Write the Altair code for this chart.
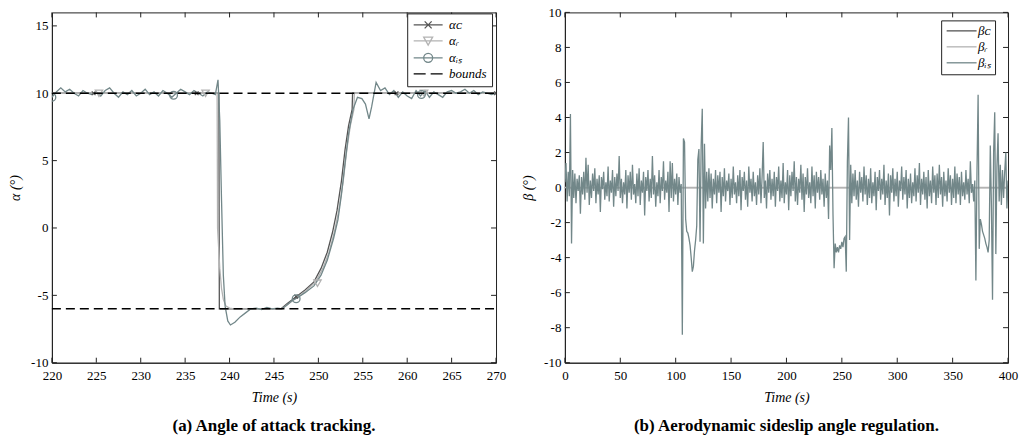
import altair as alt
import pandas as pd

# ---------------- (a) angle of attack tracking ----------------
alpha_c_t = [220.0, 238.8, 238.85, 245.8, 246.5, 247.5, 248.5, 249.5, 250.3, 251.0,
             251.6, 252.1, 252.6, 253.0, 253.4, 253.8, 253.85, 270.0]
alpha_c_v = [10.0, 10.0, -6.0, -6.0, -5.6, -5.1, -4.6, -4.0, -3.0, -1.8,
             -0.3, 1.3, 3.5, 5.8, 7.6, 8.8, 10.0, 10.0]

alpha_r_t = [220.0, 238.6, 238.65, 238.9, 239.1, 239.3, 239.6, 240.0, 240.5, 245.9,
             246.7, 247.7, 248.7, 249.7, 250.5, 251.2, 251.8, 252.3, 252.8, 253.2,
             253.6, 254.0, 254.05, 270.0]
alpha_r_v = [10.0, 10.0, 0.0, -3.0, -4.5, -5.3, -5.8, -5.95, -6.0, -6.0,
             -5.6, -5.1, -4.6, -4.0, -3.0, -1.8, -0.3, 1.3, 3.5, 5.8,
             7.6, 8.8, 10.0, 10.0]

alpha_is_t = [220.0, 220.5, 221.0, 221.5, 222.0, 222.5, 223.0, 223.5, 224.0, 224.5,
              225.0, 225.5, 226.0, 226.5, 227.0, 227.5, 228.0, 228.5, 229.0, 229.5,
              230.0, 230.5, 231.0, 231.5, 232.0, 232.5, 233.0, 233.5, 234.0, 234.5,
              235.0, 235.5, 236.0, 236.5, 237.0, 237.5, 238.0, 238.4, 238.7, 238.9,
              239.1, 239.3, 239.5, 239.8, 240.1, 240.6, 241.2, 241.8, 242.4, 243.0,
              243.6, 244.2, 244.8, 245.4, 245.9, 246.5, 247.0, 247.6, 248.5, 249.5,
              250.3, 251.0, 251.7, 252.2, 252.6, 253.0, 253.4, 253.9, 254.4, 254.9,
              255.3, 255.7, 256.0, 256.5, 257.0, 257.5, 258.0, 258.5, 259.0, 259.5,
              260.0, 260.5, 261.0, 261.5, 262.0, 262.5, 263.0, 263.5, 264.0, 264.5,
              265.0, 265.5, 266.0, 266.5, 267.0, 267.5, 268.0, 268.5, 269.0, 269.5,
              270.0]
alpha_is_v = [9.7, 10.1, 10.4, 10.1, 10.3, 10.0, 9.8, 10.2, 10.0, 9.9,
              10.1, 9.8, 10.2, 10.4, 10.0, 9.7, 10.1, 9.9, 10.2, 9.8,
              10.0, 10.3, 9.9, 10.1, 9.8, 10.2, 10.0, 9.7, 10.0, 10.3,
              10.1, 9.9, 10.2, 10.0, 9.8, 10.1, 10.0, 9.9, 11.0, 8.0,
              2.0, -3.5, -5.8, -6.9, -7.2, -7.0, -6.6, -6.3, -6.0, -5.95,
              -6.05, -5.9, -6.0, -5.95, -6.0, -5.7, -5.4, -5.2, -4.8, -4.3,
              -3.5, -2.4, -0.8, 0.6, 2.5, 4.8, 7.0, 8.8, 9.7, 9.6,
              9.2, 8.1, 9.0, 10.8, 10.2, 10.4, 9.9, 10.2, 9.7, 10.1,
              9.8, 9.6, 10.2, 9.8, 10.2, 9.7, 10.1, 9.9, 9.7, 10.1,
              10.2, 10.0, 10.1, 10.3, 10.0, 10.2, 9.9, 10.1, 10.0, 9.9,
              10.0]

# markers on the lines
mk_c_t = [224.7, 236.3, 247.5, 258.8, 270.0]
mk_c_v = [10.0, 10.0, -5.1, 10.0, 10.0]
mk_r_t = [225.3, 237.3, 249.9, 261.9]
mk_r_v = [10.0, 10.0, -4.1, 10.0]
mk_is_t = [220.0, 233.7, 247.5, 261.6]
mk_is_v = [9.7, 9.85, -5.25, 9.9]

bounds_t = [220.0, 270.0]
bound_hi = [10.0, 10.0]
bound_lo = [-6.0, -6.0]

alpha_names = ["αᴄ", "αᵣ", "αᵢₛ", "bounds"]
alpha_xticks = [220, 225, 230, 235, 240, 245, 250, 255, 260, 265, 270]
alpha_yticks = [-10, -5, 0, 5, 10, 15]

# ---------------- (b) sideslip regulation ----------------
beta_is = [
    0.3, 1.4, -0.8, 0.9, -0.5, 4.2, -3.2, 1.0, -0.6, 0.8,
    -0.9, 0.5, -0.2, 0.7, -1.5, 0.6, -0.4, 0.9, -0.7, 1.7,
    -0.3, 1.3, -1.0, 0.4, -0.6, 0.8, -0.2, 1.1, -0.9, 0.5,
    -0.4, 0.7, -1.4, 0.6, -0.1, 0.9, -0.7, 0.3, -0.5, 1.2,
    -0.8, 0.4, -0.3, 1.0, -1.1, 0.6, -0.5, 0.8, -0.2, 1.8,
    -0.6, 0.5, -0.9, 0.3, -0.4, 1.0, -1.2, 0.7, -0.3, 0.9,
    -0.7, 1.3, -0.4, 0.2, -0.9, 0.8, -0.5, 1.1, -1.0, 0.4,
    -0.3, 0.9, -1.6, 0.6, -0.2, 1.0, -0.8, 0.5, -0.6, 1.8,
    -0.4, 0.7, -1.1, 0.3, -0.5, 1.0, -0.9, 0.6, -0.2, 1.5,
    -0.7, 0.4, -0.3, 0.9, -1.4, 1.5, -0.6, 1.4, -0.8, 0.5,
    -0.4, 0.8, -1.0, 0.6, -0.3, 0.2, -8.4, 2.8, 2.6, -1.8,
    -2.5, -2.6, -2.9, -3.3, -4.0, -4.8, -4.5, -3.6, -3.0, -2.2,
    1.6, 2.2, -3.1, 2.4, 4.5, -3.2, 2.5, -1.2, 0.9, -0.8,
    1.1, -0.6, 0.8, -1.2, 0.5, -0.4, 1.0, -0.9, 0.7, -0.3,
    0.9, -1.4, 0.6, -0.5, 1.1, -0.8, 0.4, -0.2, 0.8, -1.0,
    0.5, -0.6, 1.2, -0.4, 0.3, -0.9, 0.7, -0.5, 1.0, -1.3,
    0.6, -0.2, 0.9, -0.7, 0.4, -1.1, 1.2, -0.3, 0.5, -0.8,
    0.9, -0.5, 0.3, -1.0, 0.7, -0.4, 1.1, -0.9, 0.6, 2.6,
    -0.6, 0.4, -1.2, 0.8, -0.3, 1.0, -0.7, 0.5, -0.5, 0.9,
    -1.1, 0.6, -0.2, 1.2, -0.8, 0.4, -0.6, 1.4, -0.9, 0.3,
    -0.4, 1.0, -1.3, 0.7, -0.5, 0.9, -0.2, 1.5, -0.8, 0.6,
    -1.0, 0.5, -0.3, 1.3, -0.7, 0.8, -1.4, 0.6, -0.4, 1.1,
    -0.6, 0.3, -0.9, 1.2, -0.5, 0.7, -1.2, 0.9, -0.3, 0.6,
    -0.7, 1.0, -0.4, 0.5, -1.1, 0.8, -0.6, 0.4, -1.8, 2.4,
    1.0, 3.4, -1.5, -4.6, -3.2, -3.7, -3.4, -3.7, -3.3, -3.5,
    -3.1, -3.4, -2.9, -2.8, -4.8, 1.5, 4.0, -3.0, 1.3, -0.9,
    0.8, -0.5, 1.0, -0.7, 0.4, -1.1, 0.9, -0.3, 0.6, -0.8,
    1.2, -0.4, 0.7, -1.0, 0.5, -0.6, 1.1, -0.9, 0.3, -0.5,
    0.9, -1.3, 0.6, -0.2, 1.0, -0.7, 0.5, -0.4, 1.3, -1.0,
    0.4, -0.6, 0.8, -1.6, 0.7, -0.3, 1.1, -0.8, 0.5, -0.5,
    0.9, -1.1, 0.4, -0.2, 1.2, -0.7, 0.6, -0.4, 1.0, -1.2,
    0.5, -0.6, 0.8, -0.9, 0.3, -0.5, 1.1, -0.8, 0.7, -0.3,
    1.4, -1.0, 0.5, -0.4, 0.9, -0.7, 0.6, -1.2, 1.0, -0.5,
    0.4, -0.9, 1.2, -0.3, 0.7, -1.0, 0.8, -0.6, 1.3, -0.4,
    0.6, -1.1, 0.9, -0.5, 0.4, -0.8, 1.1, -0.3, 0.7, -1.0,
    0.5, -0.6, 1.2, -0.9, 0.8, -0.4, 0.6, -1.0, 0.9, -0.5,
    0.3, -0.7, 1.0, -0.4, 0.5, -0.9, 1.5, -0.3, 0.2, -0.8,
    0.4, -5.3, 1.0, 5.3, -3.5, -1.8, -2.1, -2.5, -2.7, -2.9,
    -3.2, -3.4, -3.7, -3.0, 2.4, -1.0, -6.4, 2.0, 4.3, -3.8,
    1.2, 3.1, -0.8, 1.3, -1.0, 1.0, -0.6, 0.9, 2.0, -1.2,
    0.4,
]
beta_t = list(range(len(beta_is)))      # 1 s sampling grid
beta_ref_t = [0.0, 400.0]
beta_c = [0.0, 0.0]
beta_r = [0.0, 0.0]

beta_names = ["βᴄ", "βᵣ", "βᵢₛ"]
beta_xticks = [0, 50, 100, 150, 200, 250, 300, 350, 400]
beta_yticks = [-10, -8, -6, -4, -2, 0, 2, 4, 6, 8, 10]

# ---------------- styling ----------------
FONT = "Liberation Serif"
DARK = "#555555"
LIGHT = "#b3b3b3"
TEAL = "#728789"
FRAME = "#222222"
H = 351
W1 = 445
W2 = 444
TICK = 5
LABEL_EXPR = "'' + datum.value"


def enc_x(domain, ticks, title):
    return alt.X("t:Q", scale=alt.Scale(domain=domain, nice=False, zero=False),
                 axis=alt.Axis(values=ticks, title=title, labelExpr=LABEL_EXPR,
                               labelPadding=7))


def enc_y(domain, ticks, title):
    return alt.Y("v:Q", scale=alt.Scale(domain=domain, nice=False, zero=False),
                 axis=alt.Axis(values=ticks, title=title, labelExpr=LABEL_EXPR,
                               labelPadding=4))


def line(t, v, color, width=1.3):
    df = pd.DataFrame({"t": t, "v": v})
    return alt.Chart(df).mark_line(color=color, strokeWidth=width, clip=True)


def ticks(xt, yt, W, X, Y):
    xdf = pd.DataFrame({"t": xt})
    ydf = pd.DataFrame({"v": yt})
    r = dict(color=FRAME, strokeWidth=1)
    return [
        alt.Chart(xdf).mark_rule(**r).encode(x=X, y=alt.value(H), y2=alt.value(H - TICK)),
        alt.Chart(xdf).mark_rule(**r).encode(x=X, y=alt.value(0), y2=alt.value(TICK)),
        alt.Chart(ydf).mark_rule(**r).encode(y=Y, x=alt.value(0), x2=alt.value(TICK)),
        alt.Chart(ydf).mark_rule(**r).encode(y=Y, x=alt.value(W), x2=alt.value(W - TICK)),
    ]


def legend_layer(names, colors, paths, X, Y, lx, ly, loff, pad):
    df = pd.DataFrame({"series": names, "t": [0.0] * len(names), "v": [0.0] * len(names)})
    lg = alt.Legend(orient="none", legendX=lx, legendY=ly, title=None,
                    strokeColor=FRAME, fillColor="white", padding=pad,
                    symbolSize=100, symbolStrokeWidth=1.3, labelOffset=loff,
                    rowPadding=2, labelFont=FONT, labelFontSize=13,
                    labelFontStyle="italic", labelColor="black")
    return alt.Chart(df).transform_filter("false").mark_point(
        filled=False, opacity=1, strokeWidth=1.3).encode(
        x=X, y=Y,
        color=alt.Color("series:N", scale=alt.Scale(domain=names, range=colors), legend=lg),
        shape=alt.Shape("series:N", scale=alt.Scale(domain=names, range=paths), legend=lg),
    )


def markers(t, v, color, shape, size):
    df = pd.DataFrame({"t": t, "v": v})
    return alt.Chart(df).mark_point(filled=False, opacity=1, color=color, shape=shape,
                                    size=size, strokeWidth=1.3, clip=True)


# ---- panel (a)
Xa = enc_x([220, 270], alpha_xticks, "Time (s)")
Ya = enc_y([-10, 16], alpha_yticks, "α (°)")
bdf = pd.DataFrame({"t": bounds_t + bounds_t, "v": bound_hi + bound_lo,
                    "b": ["hi", "hi", "lo", "lo"]})
X_SHAPE = "M-1,-1L1,1M-1,1L1,-1"
alpha_paths = [
    "M-1,0H4.8M1.2,-0.7L2.6,0.7M1.2,0.7L2.6,-0.7",
    "M-1,0H4.8M1.0,-0.75L2.8,-0.75L1.9,0.85Z",
    "M-1,0H4.8M2.8,0A0.9,0.9,0,1,0,1.0,0A0.9,0.9,0,1,0,2.8,0",
    "M-1,0H1.4M2.4,0H4.8",
]
layers_a = ticks(alpha_xticks, alpha_yticks, W1, Xa, Ya) + [
    line(alpha_c_t, alpha_c_v, DARK).encode(x=Xa, y=Ya),
    line(alpha_r_t, alpha_r_v, LIGHT).encode(x=Xa, y=Ya),
    line(alpha_is_t, alpha_is_v, TEAL).encode(x=Xa, y=Ya),
    markers(mk_c_t, mk_c_v, DARK, X_SHAPE, 14).encode(x=Xa, y=Ya),
    markers(mk_r_t, mk_r_v, LIGHT, "triangle-down", 55).encode(x=Xa, y=Ya),
    markers(mk_is_t, mk_is_v, TEAL, "circle", 60).encode(x=Xa, y=Ya),
    alt.Chart(bdf).mark_line(color="black", strokeWidth=1.6, strokeDash=[9, 5]).encode(
        x=Xa, y=Ya, detail="b:N"),
    legend_layer(alpha_names, [DARK, LIGHT, TEAL, "black"], alpha_paths, Xa, Ya,
                 356, 1, 24, 5),
]
chart_a = alt.layer(*layers_a).properties(
    width=W1, height=H,
    title=alt.TitleParams("(a) Angle of attack tracking.", orient="bottom", anchor="middle",
                          frame="group", font=FONT, fontSize=17, fontWeight="bold",
                          color="black", offset=13))

# ---- panel (b)
Xb = enc_x([0, 400], beta_xticks, "Time (s)")
Yb = enc_y([-10, 10], beta_yticks, "β (°)")
beta_paths = ["M-1,0H5", "M-1,0H5", "M-1,0H5"]
layers_b = ticks(beta_xticks, beta_yticks, W2, Xb, Yb) + [
    line(beta_ref_t, beta_c, DARK).encode(x=Xb, y=Yb),
    line(beta_ref_t, beta_r, LIGHT, width=1.6).encode(x=Xb, y=Yb),
    line(beta_t, beta_is, TEAL, width=1.3).encode(x=Xb, y=Yb),
    legend_layer(beta_names, [DARK, LIGHT, TEAL], beta_paths, Xb, Yb, 377, 8, 20, 4),
]
chart_b = alt.layer(*layers_b).properties(
    width=W2, height=H,
    title=alt.TitleParams("(b) Aerodynamic sideslip angle regulation.", orient="bottom",
                          anchor="middle", frame="group", font=FONT, fontSize=17,
                          fontWeight="bold", color="black", offset=13))

chart = alt.hconcat(chart_a, chart_b, spacing=14).resolve_scale(
    color="independent", shape="independent", x="independent", y="independent"
).properties(
    padding={"left": 8, "top": 5, "right": 0, "bottom": 0}
).configure(background="white").configure_view(
    stroke=FRAME, strokeWidth=1
).configure_axis(
    grid=False, ticks=False, tickSize=0, domainColor=FRAME, domainWidth=1,
    labelFont=FONT, labelFontSize=13, labelColor="black",
    labelFlush=False, titleFont=FONT, titleFontSize=14, titleFontWeight="normal",
    titleFontStyle="italic", titleColor="black", titlePadding=8,
)

chart.save("out.html", embed_options={"renderer": "svg", "actions": False})
